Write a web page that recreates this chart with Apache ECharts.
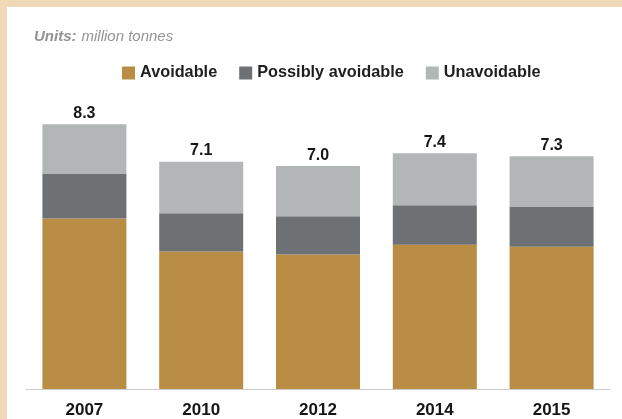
<!DOCTYPE html>
<html>
<head>
<meta charset="utf-8">
<script src="https://cdn.jsdelivr.net/npm/echarts@6/dist/echarts.min.js"></script>
<style>
  html, body { margin: 0; padding: 0; width: 622px; height: 419px; background: #f0d9b9; overflow: hidden; }
  #chart { position: absolute; left: 7px; top: 7px; width: 615px; height: 412px; background: #ffffff; }
</style>
</head>
<body>
<div id="chart"></div>
<script>
const years = ['2007', '2010', '2012', '2014', '2015'];
const avoidable = [5.35, 4.31, 4.22, 4.52, 4.46];
const possiblyAvoidable = [1.41, 1.20, 1.20, 1.24, 1.25];
const unavoidable = [1.54, 1.62, 1.57, 1.63, 1.59];
const totalLabels = ['8.3', '7.1', '7.0', '7.4', '7.3'];
const seriesNames = ['Avoidable', 'Possibly avoidable', 'Unavoidable'];

const FONT = '"Liberation Sans", Arial, sans-serif';
const chart = echarts.init(document.getElementById('chart'), null, { renderer: 'canvas' });

chart.setOption({
  animation: false,
  color: ['#b98e44', '#6e7173', '#b3b6b7'],
  title: {
    text: '{b|Units:} {n|million tonnes}',
    left: 27, top: 21, padding: 0,
    textStyle: {
      rich: {
        b: { fontFamily: FONT, fontSize: 15, fontStyle: 'italic', fontWeight: 'bold', color: '#939393' },
        n: { fontFamily: FONT, fontSize: 15, fontStyle: 'italic', fontWeight: 'normal', color: '#939393' }
      }
    }
  },
  legend: {
    data: seriesNames,
    left: 115, top: 58, padding: 0,
    itemWidth: 13, itemHeight: 13, itemGap: 22,
    icon: 'rect',
    textStyle: { fontFamily: FONT, fontSize: 16.3, fontWeight: 'bold', color: '#1e1e1e', padding: [0, 0, 0, 0] }
  },
  grid: { left: 19, right: 12, top: 95, bottom: 30, containLabel: false },
  xAxis: {
    type: 'category',
    data: years,
    axisLine: { show: true, lineStyle: { color: '#cccccc', width: 1 } },
    axisTick: { show: false },
    axisLabel: { fontFamily: FONT, fontSize: 17, fontWeight: 'bold', color: '#161616', margin: 13 }
  },
  yAxis: { type: 'value', min: 0, max: 9, show: false, splitLine: { show: false } },
  series: [
    { name: seriesNames[0], type: 'bar', stack: 'total', data: avoidable, barWidth: 84 },
    { name: seriesNames[1], type: 'bar', stack: 'total', data: possiblyAvoidable, barWidth: 84 },
    {
      name: seriesNames[2], type: 'bar', stack: 'total', data: unavoidable, barWidth: 84,
      label: {
        show: true, position: 'top', distance: 3,
        formatter: p => totalLabels[p.dataIndex],
        fontFamily: FONT, fontSize: 16, fontWeight: 'bold', color: '#161616'
      }
    }
  ]
});
</script>
</body>
</html>
